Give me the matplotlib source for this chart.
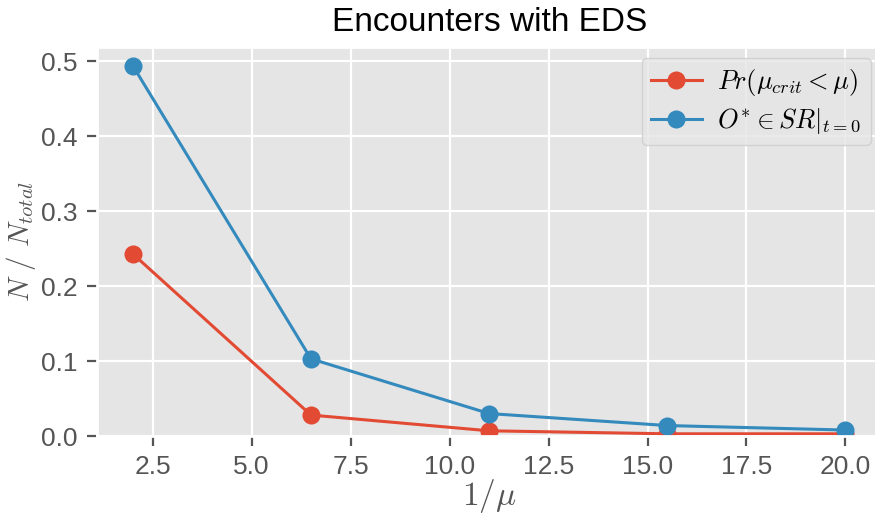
import matplotlib
matplotlib.use("Agg")
import matplotlib.pyplot as plt

# data
inv_mu = [2.0, 6.5, 11.0, 15.5, 20.0]
pr_crit = [0.243, 0.028, 0.007, 0.003, 0.003]
o_star_in_sr = [0.494, 0.103, 0.030, 0.014, 0.008]

plt.style.use("ggplot")
plt.rcParams["font.family"] = ["Liberation Sans", "DejaVu Sans"]
plt.rcParams["mathtext.fontset"] = "cm"

fig = plt.figure(figsize=(4.375, 2.565), dpi=200)
ax = fig.add_axes([0.111, 0.150, 0.896, 0.758])

ax.plot(inv_mu, pr_crit, marker="o", lw=1.1, ms=5.5, label=r"$Pr(\mu_{crit} < \mu)$")
ax.plot(inv_mu, o_star_in_sr, marker="o", lw=1.1, ms=5.5, label=r"$O^{*} \in SR|_{t=0}$")

ax.set_ylim(bottom=0)
ax.set_xticks([2.5, 5.0, 7.5, 10.0, 12.5, 15.0, 17.5, 20.0])
ax.tick_params(labelsize=9.5)

ax.set_title("Encounters with EDS", fontsize=12, color="black")
ax.set_xlabel(r"$1/\mu$", fontsize=12, labelpad=-1)
ax.set_ylabel(r"$N\ /\ N_{total}$", fontsize=10.5, labelpad=1)

ax.legend(loc="upper right", fontsize=9.5, labelspacing=0.3, borderpad=0.35,
          handlelength=1.9, handletextpad=0.6, borderaxespad=0.4)

fig.savefig("out.png", dpi=200)
